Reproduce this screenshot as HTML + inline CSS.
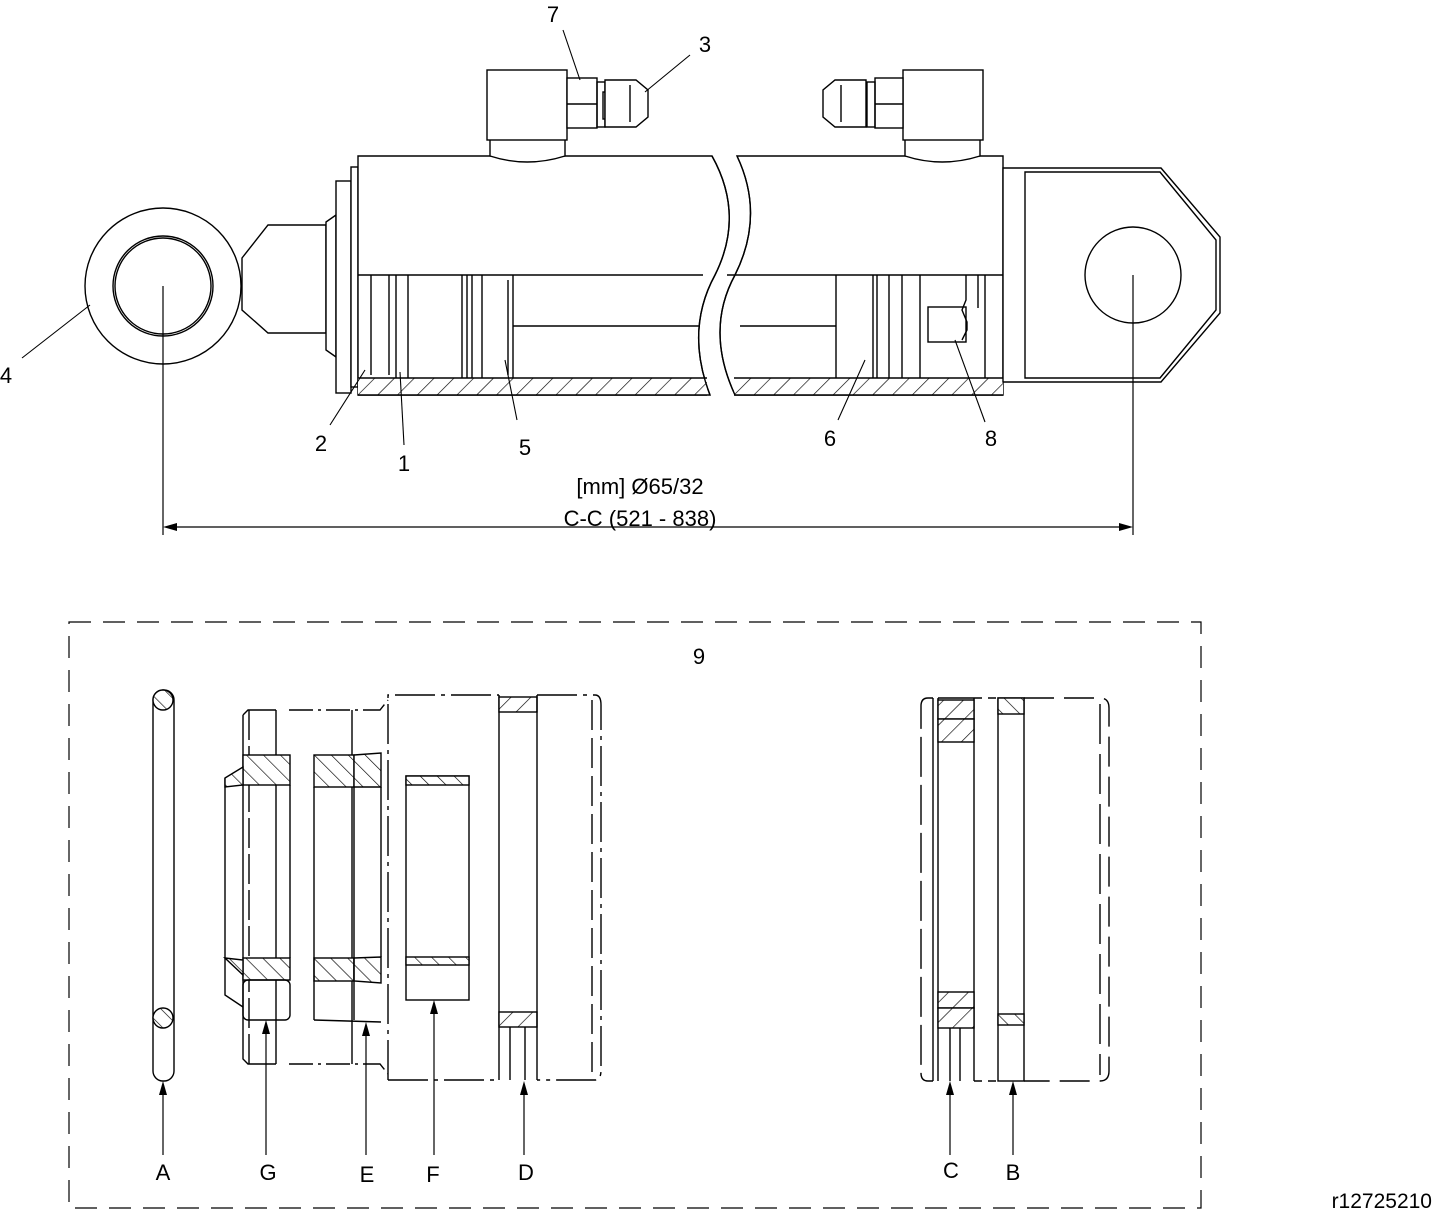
<!DOCTYPE html>
<html><head><meta charset="utf-8"><style>
html,body{margin:0;padding:0;background:#fff}
svg{display:block}
text{font-family:"Liberation Sans",sans-serif;font-size:22px;fill:#000}
</style></head><body>
<svg width="1432" height="1218" viewBox="0 0 1432 1218" xmlns="http://www.w3.org/2000/svg">
<defs>
<pattern id="h" patternUnits="userSpaceOnUse" width="14" height="14" patternTransform="rotate(45)">
<rect width="14" height="14" fill="#fff"/><line x1="0" y1="0" x2="0" y2="14" stroke="#000" stroke-width="1.3"/></pattern>
<pattern id="h2" patternUnits="userSpaceOnUse" width="12" height="12" patternTransform="rotate(-45)">
<rect width="12" height="12" fill="#fff"/><line x1="0" y1="0" x2="0" y2="12" stroke="#000" stroke-width="1.3"/></pattern>
</defs>
<g fill="none" stroke="#000" stroke-width="1.4">
<circle cx="163" cy="286" r="78" fill="#fff"/>
<circle cx="163" cy="286" r="50"/>
<circle cx="163" cy="286" r="48"/>
<polygon points="242,258 268,225 326,225 326,333 268,333 242,310" fill="#fff"/>
<polygon points="326,222 336,215 336,357 326,350" fill="#fff"/>
<rect x="336" y="181" width="15" height="212" fill="#fff"/>
<rect x="351" y="167" width="7" height="220" fill="#fff"/>
<path d="M358,156 H712 Q745,215 715,275 Q685,330 710,395 H358 Z" fill="#fff"/>
<path d="M737,156 H1003 V395 H735 Q705,330 735,275 Q765,215 737,156 Z" fill="#fff"/>
<line x1="358" y1="275" x2="703" y2="275"/>
<line x1="727" y1="275" x2="1003" y2="275"/>
<rect x="358" y="378" width="349" height="17" fill="url(#h)" stroke="none"/>
<rect x="734" y="378" width="269" height="17" fill="url(#h)" stroke="none"/>
<line x1="358" y1="378" x2="707" y2="378"/><line x1="734" y1="378" x2="1003" y2="378"/>
<line x1="358" y1="395" x2="707" y2="395"/><line x1="734" y1="395" x2="1003" y2="395"/>
<path d="M712,156 Q745,215 715,275 Q685,330 710,395"/>
<path d="M737,156 Q765,215 735,275 Q705,330 735,395"/>
<line x1="371" y1="275" x2="371" y2="375"/>
<line x1="389" y1="275" x2="389" y2="375"/>
<line x1="396" y1="275" x2="396" y2="378"/>
<line x1="408" y1="275" x2="408" y2="378"/>
<line x1="462" y1="275" x2="462" y2="378"/>
<line x1="467" y1="275" x2="467" y2="378"/>
<line x1="472" y1="275" x2="472" y2="378"/>
<line x1="482" y1="275" x2="482" y2="378"/>
<line x1="508" y1="280" x2="508" y2="375"/>
<line x1="513" y1="275" x2="513" y2="378"/>
<line x1="513" y1="326" x2="700" y2="326"/>
<line x1="740" y1="326" x2="836" y2="326"/>
<line x1="836" y1="275" x2="836" y2="378"/>
<line x1="873" y1="275" x2="873" y2="378"/>
<line x1="877" y1="275" x2="877" y2="378"/>
<line x1="889" y1="275" x2="889" y2="378"/>
<line x1="902" y1="275" x2="902" y2="378"/>
<line x1="920" y1="275" x2="920" y2="378"/>
<rect x="928" y="307" width="38" height="35"/>
<path d="M966,275 V300 L962,310 L967,322 V330 L962,340"/>
<line x1="978" y1="275" x2="978" y2="308"/><line x1="985" y1="275" x2="985" y2="378"/>
<polygon points="1003,168 1161,168 1220,237 1220,313 1161,382 1003,382" fill="#fff"/>
<polygon points="1025,172 1160,172 1216,240 1216,310 1160,378 1025,378"/>
<circle cx="1133" cy="275" r="48"/>
<path d="M490,140 V156 Q527,168 565,156 V140" fill="#fff"/>
<rect x="487" y="70" width="80" height="70" fill="#fff"/>
<rect x="567" y="78" width="30" height="50" fill="#fff"/><line x1="567" y1="104" x2="597" y2="104"/>
<rect x="597" y="82" width="8" height="45"/><rect x="603" y="92" width="6" height="27"/>
<path d="M605,80 H636 L648,90 V117 L636,127 H605 Z" fill="#fff"/>
<line x1="630" y1="85" x2="630" y2="122"/>
<path d="M905,140 V156 Q942,168 980,156 V140" fill="#fff"/>
<rect x="903" y="70" width="80" height="70" fill="#fff"/>
<rect x="875" y="78" width="28" height="50" fill="#fff"/><line x1="875" y1="104" x2="903" y2="104"/>
<rect x="867" y="82" width="8" height="45"/><rect x="860" y="92" width="6" height="27"/>
<path d="M866,80 H835 L823,90 V117 L835,127 H866 Z" fill="#fff"/>
<line x1="841" y1="85" x2="841" y2="122"/>
</g>
<g stroke="#000" stroke-width="1.2" fill="none">
<line x1="163" y1="286" x2="163" y2="535"/>
<line x1="1133" y1="275" x2="1133" y2="535"/>
<line x1="175" y1="527" x2="1121" y2="527"/>
</g>
<path d="M163,527 l14,-4 v8z M1133,527 l-14,-4 v8z" fill="#000"/>
<text x="640" y="494" text-anchor="middle">[mm] Ø65/32</text>
<text x="640" y="526" text-anchor="middle">C-C (521 - 838)</text>
<g stroke="#000" stroke-width="1.1">
<line x1="563" y1="30" x2="580" y2="80"/>
<line x1="690" y1="55" x2="645" y2="92"/>
<line x1="22" y1="358" x2="90" y2="305"/>
<line x1="330" y1="425" x2="365" y2="370"/>
<line x1="404" y1="445" x2="400" y2="372"/>
<line x1="517" y1="420" x2="505" y2="360"/>
<line x1="838" y1="420" x2="865" y2="360"/>
<line x1="985" y1="422" x2="955" y2="340"/>
</g>
<text x="553" y="22" text-anchor="middle">7</text>
<text x="705" y="52" text-anchor="middle">3</text>
<text x="6" y="383" text-anchor="middle">4</text>
<text x="321" y="451" text-anchor="middle">2</text>
<text x="404" y="471" text-anchor="middle">1</text>
<text x="525" y="455" text-anchor="middle">5</text>
<text x="830" y="446" text-anchor="middle">6</text>
<text x="991" y="446" text-anchor="middle">8</text>
<rect x="69" y="622" width="1132" height="586" fill="none" stroke="#000" stroke-width="1.2" stroke-dasharray="22,12"/>
<text x="699" y="664" text-anchor="middle">9</text>
<g fill="none" stroke="#000" stroke-width="1.4">
<rect x="153" y="690" width="21" height="391" rx="10"/>
<circle cx="163" cy="700" r="10" fill="url(#h2)"/>
<circle cx="163" cy="1018" r="10" fill="url(#h2)"/>
<path d="M243,715 L248,710 H276 M276,1064 H248 L243,1059 V715" />
<line x1="276" y1="710" x2="276" y2="1064"/>
<line x1="249" y1="710" x2="249" y2="1064" stroke-dasharray="30,6"/>
<path d="M225,778 V995 L243,1007"/>
<rect x="243" y="755" width="47" height="30" fill="url(#h2)"/>
<path d="M225,778 L243,767 V785 L225,787Z" fill="url(#h2)"/>
<rect x="243" y="958" width="47" height="22" fill="url(#h2)"/>
<path d="M225,958 L243,960 V975Z" fill="url(#h2)"/>
<rect x="243" y="980" width="47" height="40" rx="5"/>
<line x1="290" y1="785" x2="290" y2="958"/>
<path d="M289,710 H380 L388,700" stroke-dasharray="24,5,3,5"/>
<path d="M289,1064 H380 L388,1074" stroke-dasharray="24,5,3,5"/>
<line x1="352" y1="710" x2="352" y2="1064"/>
<rect x="314" y="755" width="40" height="32" fill="url(#h2)"/>
<path d="M354,755 L381,753 V787 L354,787Z" fill="url(#h2)"/>
<rect x="314" y="958" width="40" height="23" fill="url(#h2)"/>
<path d="M354,958 L381,957 V983 L354,981Z" fill="url(#h2)"/>
<line x1="314" y1="787" x2="314" y2="1020"/><line x1="314" y1="1020" x2="381" y2="1022"/>
<line x1="381" y1="787" x2="381" y2="957"/><line x1="354" y1="787" x2="354" y2="1020"/>
<path d="M388,1080 V695 H499" stroke-dasharray="40,6,4,6"/>
<line x1="499" y1="695" x2="499" y2="1080"/>
<line x1="388" y1="1080" x2="499" y2="1080" stroke-dasharray="40,6,4,6"/>
<rect x="406" y="776" width="63" height="224"/>
<rect x="406" y="776" width="63" height="9" fill="url(#h2)"/>
<rect x="406" y="957" width="63" height="8" fill="url(#h2)"/>
<rect x="499" y="697" width="38" height="15" fill="url(#h)"/>
<rect x="499" y="1012" width="38" height="15" fill="url(#h)"/>
<line x1="537" y1="695" x2="537" y2="1080"/>
<line x1="510" y1="1027" x2="510" y2="1080"/><line x1="525" y1="1027" x2="525" y2="1080"/>
<path d="M537,695 H595 Q601,695 601,705 V1070 Q601,1080 595,1080 H537" stroke-dasharray="40,6,4,6"/>
<line x1="592" y1="700" x2="592" y2="1075" stroke-dasharray="30,8"/>
<path d="M933,698 H928 Q921,698 921,706 V1073 Q921,1081 928,1081 H933" stroke-dasharray="40,8"/>
<line x1="933" y1="698" x2="933" y2="1081"/>
<line x1="938" y1="698" x2="938" y2="1081"/>
<line x1="974" y1="698" x2="974" y2="1081"/>
<line x1="938" y1="698" x2="974" y2="698"/>
<rect x="938" y="700" width="36" height="19" fill="url(#h)"/>
<rect x="938" y="719" width="36" height="23" fill="url(#h)"/>
<rect x="938" y="992" width="36" height="16" fill="url(#h)"/>
<rect x="938" y="1008" width="36" height="20" fill="url(#h)"/>
<line x1="950" y1="1028" x2="950" y2="1081"/><line x1="960" y1="1028" x2="960" y2="1081"/>
<line x1="974" y1="698" x2="998" y2="698" stroke-dasharray="8,6"/>
<line x1="974" y1="1081" x2="998" y2="1081" stroke-dasharray="8,6"/>
<rect x="998" y="698" width="26" height="383"/>
<rect x="998" y="698" width="26" height="16" fill="url(#h2)"/>
<rect x="998" y="1014" width="26" height="11" fill="url(#h2)"/>
<path d="M1024,698 H1100 Q1109,698 1109,708 V1071 Q1109,1081 1100,1081 H1024" stroke-dasharray="30,10"/>
<line x1="1100" y1="704" x2="1100" y2="1075" stroke-dasharray="40,10"/>
</g>
<g stroke="#000" stroke-width="1.2">
<line x1="163" y1="1155" x2="163" y2="1092"/>
<line x1="266" y1="1155" x2="266" y2="1032"/>
<line x1="366" y1="1155" x2="366" y2="1034"/>
<line x1="434" y1="1155" x2="434" y2="1012"/>
<line x1="524" y1="1155" x2="524" y2="1092"/>
<line x1="950" y1="1155" x2="950" y2="1092"/>
<line x1="1013" y1="1155" x2="1013" y2="1092"/>
</g>
<g fill="#000">
<path d="M163,1081 l-4,14 h8z"/><path d="M266,1020 l-4,14 h8z"/><path d="M366,1022 l-4,14 h8z"/>
<path d="M434,1000 l-4,14 h8z"/><path d="M524,1081 l-4,14 h8z"/><path d="M950,1081 l-4,14 h8z"/><path d="M1013,1081 l-4,14 h8z"/>
</g>
<text x="163" y="1180" text-anchor="middle">A</text>
<text x="268" y="1180" text-anchor="middle">G</text>
<text x="367" y="1182" text-anchor="middle">E</text>
<text x="433" y="1182" text-anchor="middle">F</text>
<text x="526" y="1180" text-anchor="middle">D</text>
<text x="951" y="1178" text-anchor="middle">C</text>
<text x="1013" y="1180" text-anchor="middle">B</text>
<text x="1432" y="1208" text-anchor="end" style="font-size:21px">r12725210</text>
</svg>
</body></html>
